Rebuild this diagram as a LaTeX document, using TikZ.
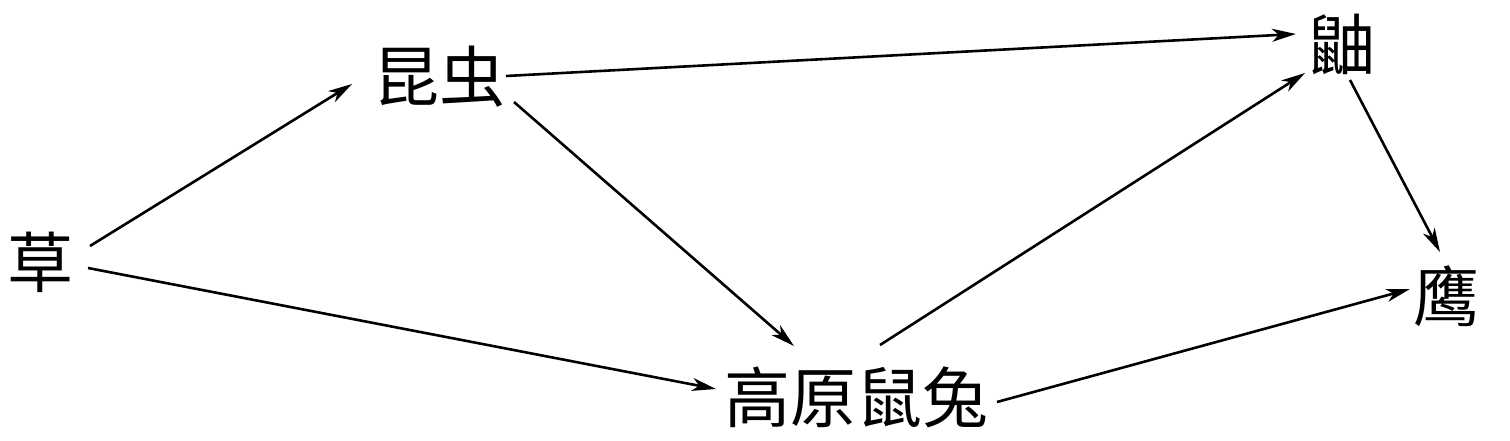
\documentclass[tikz,border=0pt]{standalone}
\usepackage{fontspec}
\newfontfamily\cjk{Noto Sans CJK SC}
\usetikzlibrary{arrows.meta}
\tikzset{
  lbl/.style={inner sep=0pt, font=\cjk\fontsize{66pt}{72pt}\selectfont},
  arr/.style={line width=2.6pt, -{Stealth[length=24pt,width=13pt,inset=7pt]}}
}
\begin{document}
\begin{tikzpicture}[x=1pt,y=-1pt]
\useasboundingbox (0,0) rectangle (1510,441);
\node[lbl] (cao) at (40,262) {草};
\node[lbl] (kun) at (439,77) {昆虫};
\node[lbl] (you) at (1342,44) {鼬};
\node[lbl] (ying) at (1446,296) {鹰};
\node[lbl] (gao) at (856,397) {高原鼠兔};
\draw[arr] ([shift={(50,-16)}]cao.center) -- ([shift={(-87,7)}]kun.center);
\draw[arr] ([shift={(48,6)}]cao.center) -- ([shift={(-140,-8)}]gao.center);
\draw[arr] ([shift={(67,-1)}]kun.center) -- ([shift={(-46,-10)}]you.center);
\draw[arr] ([shift={(75,25)}]kun.center) -- ([shift={(-62,-51)}]gao.center);
\draw[arr] ([shift={(24,-52)}]gao.center) -- ([shift={(-37,29)}]you.center);
\draw[arr] ([shift={(141,5)}]gao.center) -- ([shift={(-36,-7)}]ying.center);
\draw[arr] ([shift={(8,36)}]you.center) -- ([shift={(-6,-44)}]ying.center);
\end{tikzpicture}
\end{document}
